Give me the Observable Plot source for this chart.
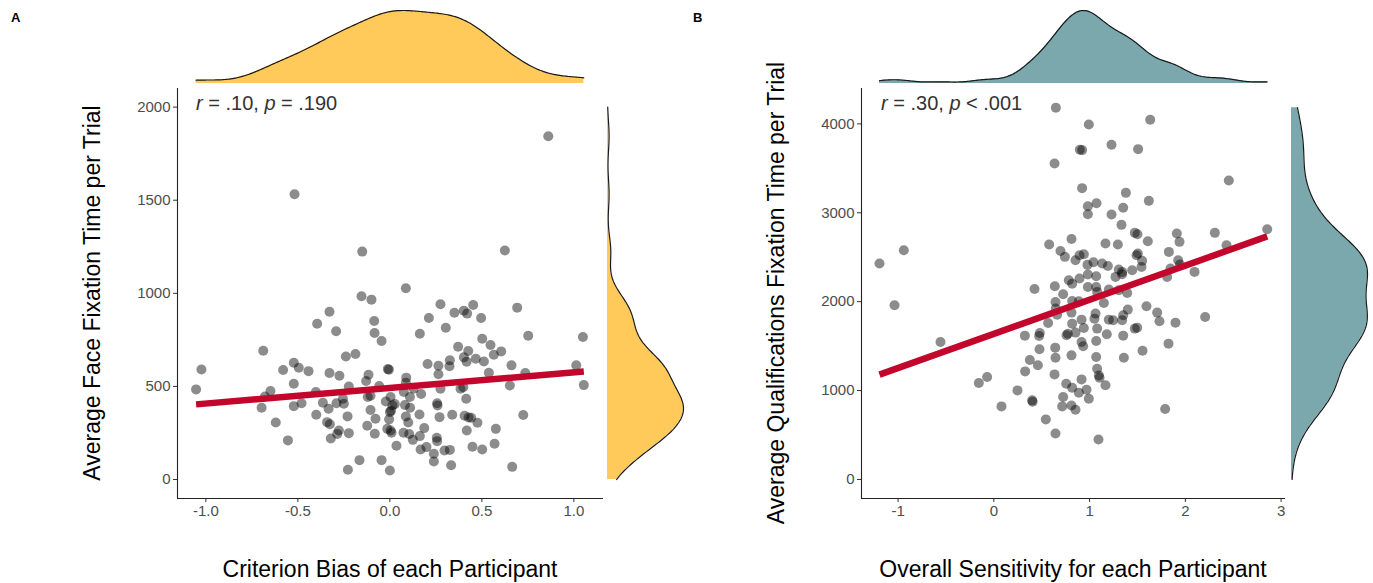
<!DOCTYPE html>
<html>
<head>
<meta charset="utf-8">
<script src="https://cdn.jsdelivr.net/npm/d3@7"></script>
<script src="https://cdn.jsdelivr.net/npm/@observablehq/plot@0.6"></script>
<style>
  body { margin: 0; background: #fff; }
  #root { position: relative; width: 1373px; height: 583px; overflow: hidden; font-family: "Liberation Sans", Arial, Helvetica, sans-serif; }
  .ytitle { position: absolute; transform: translate(-50%, -50%) rotate(-90deg); white-space: nowrap; font-size: 23px; line-height: 1; color: #000; }
  .xtitle { position: absolute; transform: translateX(-50%); white-space: nowrap; font-size: 23px; line-height: 1; color: #000; }
  .ann { position: absolute; white-space: nowrap; font-size: 20px; line-height: 1; color: #333; }
  .tag { position: absolute; font-size: 13px; font-weight: bold; line-height: 1; color: #000; }
</style>
</head>
<body>
<div id="root"></div>
<script>
// ---------- Panel A data: criterion bias vs face fixation time ----------
const biasA = [
  -0.518,-0.150,0.625,0.861,-1.053,-1.024,-0.688,-0.697,-0.649,-0.679,
  -0.620,-0.554,-0.580,-0.522,-0.495,-0.442,-0.522,-0.522,-0.480,-0.402,
  -0.400,-0.395,-0.328,-0.292,-0.328,-0.274,-0.364,-0.333,-0.341,-0.326,
  -0.321,-0.286,-0.277,-0.223,-0.290,-0.250,-0.255,-0.230,-0.239,-0.187,
  -0.223,-0.228,-0.165,-0.154,-0.100,-0.085,-0.083,-0.045,-0.129,-0.116,
  -0.105,-0.105,-0.123,-0.078,-0.082,-0.045,0.000,-0.011,-0.005,-0.022,
  0.004,0.000,0.007,-0.004,0.004,-0.014,0.009,0.036,0.087,0.089,
  0.087,0.076,0.082,0.109,0.087,0.100,0.074,0.105,0.125,0.163,
  0.167,0.163,0.130,0.170,0.187,0.161,0.212,0.205,0.199,0.239,
  0.239,0.255,0.257,0.257,0.259,0.270,0.264,0.264,0.275,0.304,
  0.275,0.326,0.324,0.297,0.326,0.333,0.339,0.351,0.371,0.402,
  0.417,0.426,0.402,0.420,0.453,0.496,0.384,0.399,0.415,0.406,
  0.428,0.442,0.476,0.418,0.449,0.502,0.467,0.511,0.502,0.547,
  0.565,0.605,0.538,0.576,0.569,0.652,0.661,0.665,0.692,0.736,
  0.725,0.752,1.013,1.049,1.054,-0.058,-0.120,0.014,0.027,0.110
];
const faceTimeA = [
  1532,1224,1230,1844,484,591,692,385,475,446,
  306,210,588,627,600,582,514,394,410,470,
  348,837,901,796,572,557,412,380,308,297,
  220,245,263,249,410,407,434,339,661,674,
  500,52,104,984,966,851,787,744,529,563,
  450,373,289,326,246,104,48,593,590,419,
  443,362,370,323,263,272,251,181,1027,547,
  520,470,400,443,339,306,251,244,213,233,
  161,783,487,459,276,349,867,620,174,138,
  97,224,206,410,398,335,565,611,941,815,
  487,640,608,156,159,77,348,896,713,656,
  633,690,907,891,937,867,487,496,434,342,
  333,332,305,263,176,161,649,634,756,722,
  670,688,573,272,192,505,613,68,923,572,
  346,772,613,765,507,502,443,398,405,385
];
// ---------- Panel B data: sensitivity vs qualifications fixation time ----------
const sensB = [
  0.648,0.992,1.633,0.898,0.922,1.229,1.507,0.634,2.454,0.922,
  1.379,1.619,0.982,1.072,0.982,1.351,1.229,1.333,1.472,1.500,
  1.608,1.911,1.939,2.308,2.855,2.430,0.811,0.578,1.166,1.295,
  0.696,0.742,1.828,1.925,1.943,0.853,0.895,0.940,1.490,1.504,
  1.549,1.041,1.131,1.191,1.305,1.340,1.445,1.542,0.978,2.096,
  1.845,-1.194,-0.940,0.783,0.818,0.895,0.982,1.069,1.271,1.340,
  1.810,-1.037,-0.557,0.425,0.637,0.724,0.644,0.647,0.661,0.818,
  0.888,0.982,1.069,1.079,1.149,1.201,1.305,1.393,1.062,1.051,
  1.079,1.201,1.246,1.340,1.351,1.399,1.594,1.706,1.730,1.897,
  2.207,0.811,0.916,0.818,0.940,0.853,0.759,0.773,0.567,0.480,
  0.473,0.324,0.477,0.641,0.376,0.460,0.644,0.811,0.916,0.933,
  1.069,1.180,1.351,1.472,1.497,1.069,1.358,1.553,1.824,0.327,
  0.634,1.079,1.097,1.104,1.166,0.916,0.756,0.818,0.888,0.968,
  0.992,0.724,0.714,0.811,0.853,-0.157,-0.070,0.247,0.400,0.405,
  0.080,0.543,0.644,1.093,1.789
];
const qualTimeB = [
  4182,3994,4047,3709,3705,3765,3716,3555,3363,3277,
  3224,3134,3074,3108,2984,3056,2980,2864,2774,2759,
  2680,2767,2673,2774,2815,2635,2706,2643,2654,2643,
  2571,2504,2560,2466,2417,2466,2523,2534,2523,2541,
  2459,2443,2429,2402,2361,2335,2354,2391,2414,2335,
  2372,2429,2579,2241,2203,2260,2305,2286,2279,2309,
  2279,1959,1547,2143,2173,2083,1997,1922,1854,2008,
  2005,2166,2166,2110,1986,2136,2128,2098,1866,1809,
  1697,1798,1791,1791,1847,1911,1948,1877,1779,1764,
  1828,1877,1798,1753,1704,1652,1622,1640,1760,1648,
  1614,1618,1464,1483,1344,1284,1370,1396,1547,1498,
  1558,1633,1618,1697,1708,1378,1370,1449,1528,1216,
  1182,1246,1171,1145,1059,1126,1077,1032,976,1010,
  908,927,822,833,785,1085,1152,1002,890,875,
  822,676,518,450,792
];
// ---------- tick labels ----------
const ticksXA = [-1, -0.5, 0, 0.5, 1];
const ticksYA = [0, 500, 1000, 1500, 2000];
const ticksXB = [-1, 0, 1, 2, 3];
const ticksYB = [0, 1000, 2000, 3000, 4000];

const FONT = '"Liberation Sans", Arial, Helvetica, sans-serif';
const YELLOW = "#FFCA5A";
const TEAL = "#7BA8AD";
const RED = "#C3062B";

const root = document.getElementById("root");

function kde(values, lo, hi) {
  const n = values.length;
  const sd = d3.deviation(values);
  const iqr = d3.quantile(values, 0.75) - d3.quantile(values, 0.25);
  const bw = 0.9 * Math.min(sd, iqr / 1.34) * Math.pow(n, -0.2);
  const k = 1 / (n * bw * Math.sqrt(2 * Math.PI));
  return d3.range(0, 257).map(i => {
    const v = lo + (hi - lo) * i / 256;
    const d = k * d3.sum(values, x => Math.exp(-0.5 * ((v - x) / bw) ** 2));
    return {v, d};
  });
}

function place(svg, left, top) {
  svg.style.position = "absolute";
  svg.style.left = left + "px";
  svg.style.top = top + "px";
  svg.style.overflow = "visible";
  root.appendChild(svg);
}

function panel(cfg) {
  const data = cfg.xs.map((x, i) => ({x, y: cfg.ys[i]}));
  const style = {fontFamily: FONT, fontSize: "15px", background: "transparent", color: "#333"};
  const main = Plot.plot({
    width: cfg.width, height: 583,
    marginLeft: cfg.ml, marginRight: cfg.mr, marginTop: 88, marginBottom: 85,
    style,
    x: {domain: cfg.xDomain},
    y: {domain: cfg.yDomain},
    marks: [
      Plot.dot(data, {x: "x", y: "y", r: 5, fill: "#000", fillOpacity: 0.45, stroke: null}),
      Plot.linearRegressionY(data, {x: "x", y: "y", stroke: RED, strokeWidth: 6.5, ci: 0, strokeLinecap: "butt"}),
      Plot.axisX({ticks: cfg.ticksX, tickFormat: cfg.fmtX, tickSize: 4, tickPadding: 3, label: null, stroke: "#333", fill: "#4d4d4d"}),
      Plot.axisY({ticks: cfg.ticksY, tickFormat: d => String(d), tickSize: 4, tickPadding: 3, label: null, stroke: "#333", fill: "#4d4d4d"}),
      Plot.ruleX([cfg.xDomain[0]], {stroke: "#222", strokeWidth: 1.1}),
      Plot.ruleY([cfg.yDomain[0]], {stroke: "#222", strokeWidth: 1.1})
    ]
  });
  place(main, cfg.left, 0);

  // top marginal density
  const dx = kde(cfg.xs, d3.min(cfg.xs), d3.max(cfg.xs));
  const top = Plot.plot({
    width: cfg.width, height: 88,
    marginLeft: cfg.ml, marginRight: cfg.mr, marginTop: 10, marginBottom: 5,
    style,
    x: {domain: cfg.xDomain, axis: null},
    y: {domain: [0, d3.max(dx, d => d.d)], axis: null},
    marks: [
      Plot.areaY(dx, {x: "v", y: "d", fill: cfg.fill}),
      Plot.lineY(dx, {x: "v", y: "d", stroke: "#1a1a1a", strokeWidth: 1.2})
    ]
  });
  place(top, cfg.left, 0);

  // right marginal density
  const dy = kde(cfg.ys, cfg.yDensRange[0], cfg.yDensRange[1]);
  const right = Plot.plot({
    width: cfg.rw, height: 583,
    marginLeft: cfg.rml, marginRight: cfg.rmr, marginTop: 88, marginBottom: 85,
    style,
    y: {domain: cfg.yDomain, axis: null},
    x: {domain: [0, d3.max(dy, d => d.d)], axis: null},
    marks: [
      Plot.areaX(dy, {y: "v", x: "d", fill: cfg.fill}),
      Plot.lineX(dy, {y: "v", x: "d", stroke: "#1a1a1a", strokeWidth: 1.2})
    ]
  });
  place(right, cfg.left + cfg.width - cfg.mr, 0);
}

panel({
  xs: biasA, ys: faceTimeA, left: 0, width: 690, ml: 177, mr: 87,
  xDomain: [-1.154, 1.161], yDomain: [-102, 2100],
  ticksX: ticksXA, ticksY: ticksYA, fmtX: d => d.toFixed(1),
  fill: YELLOW, yDensRange: [0, 2000],
  rw: 87, rml: 4, rmr: 7
});
panel({
  xs: sensB, ys: qualTimeB, left: 690, width: 683, ml: 171, mr: 88,
  xDomain: [-1.382, 3.046], yDomain: [-214, 4398],
  ticksX: ticksXB, ticksY: ticksYB, fmtX: d => String(d),
  fill: TEAL, yDensRange: [0, d3.max(qualTimeB)],
  rw: 88, rml: 6, rmr: 6
});

// ---------- text overlays ----------
function addDiv(cls, html, css) {
  const d = document.createElement("div");
  d.className = cls;
  d.innerHTML = html;
  Object.assign(d.style, css);
  root.appendChild(d);
}
addDiv("tag", "A", {left: "11px", top: "11px"});
addDiv("tag", "B", {left: "693px", top: "11px"});
addDiv("ann", "<i>r</i> = .10, <i>p</i> = .190", {left: "196px", top: "93px"});
addDiv("ann", "<i>r</i> = .30, <i>p</i> &lt; .001", {left: "881px", top: "93px"});
addDiv("ytitle", "Average Face Fixation Time per Trial", {left: "92px", top: "293px"});
addDiv("ytitle", "Average Qualifications Fixation Time per Trial", {left: "776px", top: "293px"});
addDiv("xtitle", "Criterion Bias of each Participant", {left: "390px", top: "558px"});
addDiv("xtitle", "Overall Sensitivity for each Participant", {left: "1073px", top: "558px"});
</script>
</body>
</html>
